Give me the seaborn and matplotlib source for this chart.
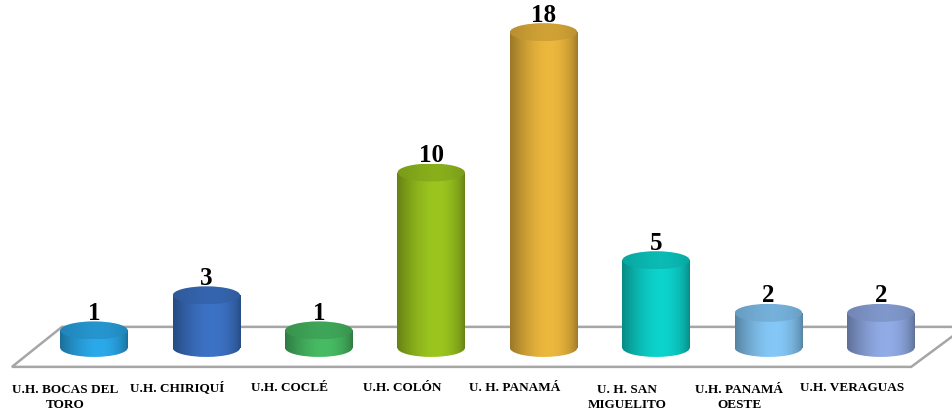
import numpy as np
import matplotlib
matplotlib.use("Agg")
import matplotlib.pyplot as plt
import matplotlib.transforms as mtransforms
from matplotlib.patches import Ellipse, Polygon, Rectangle
import seaborn as sns

categories = ["U.H. BOCAS DEL\nTORO", "U.H. CHIRIQUÍ", "U.H. COCLÉ", "U.H. COLÓN",
              "U. H. PANAMÁ", "U. H. SAN\nMIGUELITO", "U.H. PANAMÁ\nOESTE", "U.H. VERAGUAS"]
values = [1, 3, 1, 10, 18, 5, 2, 2]
colors = ["#2aa6e6", "#3b70c2", "#46b862", "#98c21e", "#e8b43c", "#0ccfc8", "#82c4f2", "#8ea8e2"]

sns.set_theme(style="white")
plt.rcParams["font.family"] = ["Liberation Serif", "DejaVu Serif"]

fig = plt.figure(figsize=(9.53, 4.10), dpi=100)
ax = fig.add_axes([0, 0.0732, 1, 0.9268])
sns.barplot(x=categories, y=values, hue=categories, palette=colors, width=0.6,
            saturation=1, legend=False, ax=ax)
bars = list(ax.patches)

xlim = (-0.836, 7.642)
ylim = (-1.77, 19.89)
ax.set_xlim(*xlim)
ax.set_ylim(*ylim)
px_per_unit = 0.9268 * 410 / (ylim[1] - ylim[0])
eh = 18 / px_per_unit  # ellipse height in data units

# floor of the 3d chart
floor = Polygon([(-0.73, -1.08), (-0.285, 1.2), (7.75, 1.2), (7.27, -1.08)], closed=True,
                facecolor="white", edgecolor="#a6a6a6", lw=1.8, zorder=0.5)
ax.add_patch(floor)

t = np.linspace(0, 1, 200)
body_shade = 0.66 + 0.36 * np.sin(np.pi * t ** 1.27) ** 0.7
top_shade = 0.80 + 0.10 * np.sin(np.pi * t ** 1.27)

for p, v in zip(bars, values):
    x0, w, h = p.get_x(), p.get_width(), p.get_height()
    xc = x0 + w / 2
    rgb = np.array(p.get_facecolor()[:3])
    p.set_facecolor("none")
    p.set_edgecolor("none")

    body = np.clip(rgb[None, :] * body_shade[:, None], 0, 1)[None, :, :]
    rect = Rectangle((x0, 0), w, h, transform=ax.transData)
    base = Ellipse((xc, 0), w, eh, transform=ax.transData)
    for clip in (rect, base):
        im = ax.imshow(body, extent=(x0, x0 + w, -eh / 2, h), aspect="auto",
                       interpolation="bilinear", zorder=2)
        im.set_clip_path(clip)

    top = np.clip(rgb[None, :] * top_shade[:, None], 0, 1)[None, :, :]
    cap = Ellipse((xc, h), w, eh, transform=ax.transData)
    im = ax.imshow(top, extent=(x0, x0 + w, h - eh / 2, h + eh / 2), aspect="auto",
                   interpolation="bilinear", zorder=3)
    im.set_clip_path(cap)

    ax.text(xc, h + 11.5 / px_per_unit, str(v), ha="center", va="baseline",
            fontsize=18, fontweight="bold", color="black", zorder=5)

ax.set_xlim(*xlim)
ax.set_ylim(*ylim)
ax.set_xlabel("")
ax.set_ylabel("")
ax.set_yticks([])
ax.tick_params(axis="x", length=0, pad=0)
for lbl in ax.get_xticklabels():
    extra = 0.17 * lbl.get_text().count("\n")
    shift = mtransforms.ScaledTranslation(-0.29, -0.115 - extra, fig.dpi_scale_trans)
    lbl.set_fontsize(9.5)
    lbl.set_fontweight("bold")
    lbl.set_color("black")
    lbl.set_linespacing(1.42)
    lbl.set_verticalalignment("baseline")
    lbl.set_transform(lbl.get_transform() + shift)
for s in ax.spines.values():
    s.set_visible(False)
ax.set_facecolor("white")

fig.savefig("out.png", dpi=100)
